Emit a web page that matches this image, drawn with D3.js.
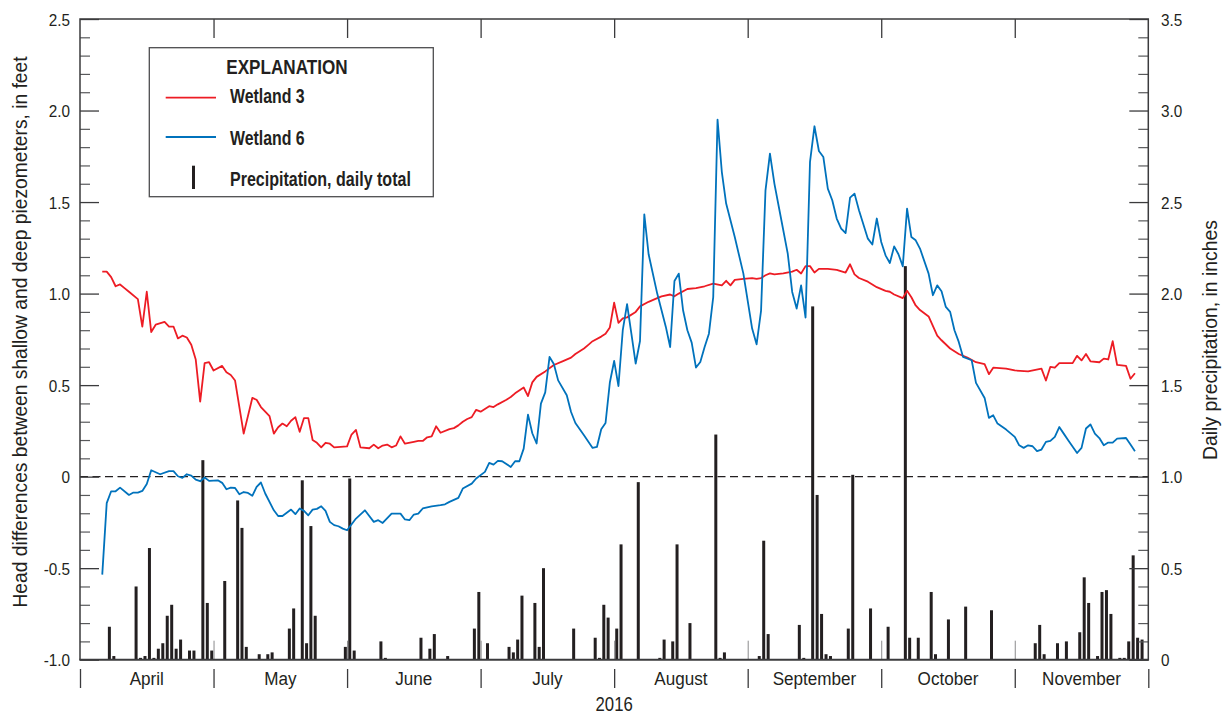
<!DOCTYPE html>
<html>
<head>
<meta charset="utf-8">
<script src="https://cdn.jsdelivr.net/npm/d3@7"></script>
<style>
  html, body { margin: 0; padding: 0; background: #ffffff; }
  svg { display: block; }
  text { font-family: "Liberation Sans", Arial, sans-serif; fill: #231f20; }
</style>
</head>
<body>
<svg id="chart" width="1222" height="714"></svg>
<script>
// ---- Data (day = days after 1 April 2016) ----
const months = ["April", "May", "June", "July", "August", "September", "October", "November"];
const yearLabel = "2016";
const headTicks = [-1.0, -0.5, 0, 0.5, 1.0, 1.5, 2.0, 2.5];
const precipTicks = [0, 0.5, 1.0, 1.5, 2.0, 2.5, 3.0, 3.5];

// Head difference, Wetland 3 (feet)
const wetland3 = [
  [5,1.12],[6,1.12],[7,1.09],[8,1.04],[9,1.05],[10,1.03],[11,1.01],[13,0.97],[14,0.82],[15,1.01],
  [16,0.79],[17,0.83],[19,0.845],[20,0.82],[21,0.82],[22,0.755],[23,0.77],[24,0.76],[25,0.72],[26,0.64],
  [27,0.41],[28,0.62],[29,0.625],[30,0.58],[32,0.605],[33,0.57],[34,0.555],[35,0.525],[37,0.235],[39,0.43],
  [40,0.42],[41,0.38],[42,0.355],[43,0.33],[44,0.235],[45,0.27],[46,0.29],[47,0.275],[48,0.305],[49,0.325],
  [50,0.245],[51,0.32],[52,0.32],[53,0.2],[54,0.185],[55,0.16],[56,0.185],[57,0.18],[58,0.16],[61,0.165],
  [62,0.23],[63,0.255],[64,0.16],[66,0.155],[67,0.175],[68,0.155],[69,0.17],[70,0.175],[71,0.16],[72,0.17],
  [73,0.22],[74,0.18],[76,0.19],[77,0.195],[78,0.195],[79,0.215],[80,0.22],[81,0.275],[82,0.24],[84,0.26],
  [85,0.265],[86,0.28],[87,0.3],[88,0.315],[89,0.325],[90,0.365],[91,0.355],[93,0.385],[94,0.38],[95,0.395],
  [97,0.42],[98,0.435],[99,0.455],[101,0.487],[102,0.44],[103,0.515],[104,0.545],[106,0.575],[108,0.61],[110,0.63],
  [112,0.65],[113,0.67],[115,0.7],[116,0.72],[117,0.74],[119,0.765],[120,0.78],[121,0.815],[122,0.95],[123,0.84],
  [124,0.865],[125,0.87],[127,0.9],[128,0.93],[130,0.955],[132,0.975],[133,0.985],[135,0.995],[136,0.985],[137,1.0],
  [139,1.025],[141,1.03],[143,1.04],[145,1.055],[147,1.045],[148,1.07],[149,1.045],[150,1.075],[152,1.08],[154,1.085],
  [155,1.08],[156,1.085],[157,1.1],[158,1.11],[159,1.105],[161,1.11],[163,1.12],[164,1.13],[165,1.11],[166,1.15],
  [167,1.15],[168,1.115],[169,1.135],[171,1.135],[173,1.13],[175,1.115],[176,1.16],[177,1.105],[178,1.085],[180,1.065],
  [182,1.035],[184,1.015],[185,1.01],[186,0.995],[188,0.975],[189,1.015],[190,0.98],[191,0.935],[192,0.91],[194,0.875],
  [196,0.77],[197,0.745],[199,0.7],[201,0.67],[203,0.65],[205,0.625],[207,0.615],[208,0.56],[209,0.595],[212,0.59],
  [214,0.58],[217,0.575],[220,0.59],[221,0.525],[222,0.6],[223,0.595],[224,0.62],[227,0.62],[228,0.66],[229,0.635],
  [230,0.67],[231,0.63],[233,0.625],[234,0.645],[235,0.64],[236,0.74],[237,0.61],[239,0.605],[240,0.535],[241,0.565]
];

// Head difference, Wetland 6 (feet)
const wetland6 = [
  [5,-0.535],[6,-0.145],[7,-0.08],[8,-0.08],[9,-0.06],[11,-0.1],[12,-0.087],[13,-0.087],[14,-0.078],[15,-0.04],
  [16,0.035],[18,0.013],[20,0.03],[21,0.03],[22,0.002],[23,-0.007],[24,0.013],[25,0.006],[26,-0.016],[27,-0.025],
  [28,-0.005],[29,-0.023],[31,-0.02],[32,-0.034],[33,-0.069],[34,-0.06],[35,-0.062],[36,-0.096],[37,-0.084],[38,-0.089],
  [39,-0.105],[40,-0.056],[41,-0.032],[42,-0.092],[44,-0.184],[45,-0.215],[46,-0.215],[48,-0.18],[49,-0.205],[50,-0.174],
  [51,-0.187],[52,-0.211],[53,-0.18],[54,-0.176],[55,-0.162],[56,-0.187],[57,-0.247],[58,-0.265],[59,-0.271],[60,-0.284],
  [61,-0.293],[63,-0.229],[65,-0.184],[67,-0.247],[68,-0.238],[69,-0.253],[71,-0.202],[73,-0.202],[74,-0.234],[75,-0.238],
  [76,-0.207],[77,-0.202],[78,-0.174],[80,-0.162],[82,-0.156],[83,-0.151],[84,-0.138],[86,-0.116],[87,-0.065],[89,-0.038],
  [90,-0.01],[92,0.026],[93,0.075],[94,0.066],[95,0.086],[96,0.084],[98,0.053],[99,0.084],[100,0.084],[101,0.153],
  [102,0.339],[103,0.237],[104,0.181],[105,0.399],[106,0.46],[107,0.654],[108,0.615],[109,0.526],[111,0.445],[112,0.353],
  [113,0.293],[115,0.226],[117,0.157],[118,0.162],[119,0.259],[120,0.293],[121,0.514],[122,0.632],[123,0.495],[124,0.8],
  [125,0.942],[126,0.781],[127,0.618],[128,0.741],[129,1.433],[130,1.215],[132,1.0],[134,0.818],[135,0.708],[136,1.069],
  [137,1.109],[138,0.909],[139,0.8],[140,0.732],[141,0.596],[142,0.626],[143,0.708],[144,0.781],[145,0.981],[146,1.95],
  [147,1.664],[148,1.492],[150,1.309],[152,1.109],[154,0.809],[155,0.723],[156,0.905],[157,1.564],[158,1.765],[159,1.601],
  [160,1.473],[162,1.218],[163,1.009],[164,0.918],[165,1.045],[166,0.869],[167,1.719],[168,1.914],[169,1.779],[170,1.746],
  [171,1.573],[172,1.51],[173,1.41],[174,1.355],[175,1.331],[176,1.524],[177,1.546],[178,1.455],[180,1.3],[181,1.268],
  [182,1.41],[183,1.282],[184,1.209],[185,1.167],[186,1.258],[187,1.215],[188,1.149],[189,1.464],[190,1.309],[191,1.291],
  [192,1.246],[194,1.109],[195,0.991],[196,1.045],[197,1.013],[198,0.927],[199,0.9],[200,0.8],[201,0.736],[202,0.654],
  [204,0.636],[205,0.512],[207,0.43],[208,0.321],[209,0.335],[210,0.29],[212,0.257],[214,0.217],[215,0.171],[216,0.157],
  [217,0.171],[218,0.166],[219,0.139],[220,0.148],[221,0.19],[222,0.195],[223,0.217],[224,0.271],[225,0.235],[226,0.199],
  [228,0.129],[229,0.157],[230,0.263],[231,0.285],[232,0.235],[233,0.211],[234,0.171],[235,0.186],[236,0.186],[237,0.208],
  [239,0.211],[240,0.175],[241,0.139]
];

// Daily precipitation totals (inches), days with rain only
const precipitation = [
  [6,0.18],[7,0.02],[12,0.40],[13,0.01],[14,0.02],[15,0.61],[16,0.01],[17,0.06],[18,0.09],[19,0.24],
  [20,0.30],[21,0.06],[22,0.11],[24,0.05],[25,0.05],[27,1.09],[28,0.31],[29,0.05],
  [32,0.43],[35,0.87],[36,0.72],[37,0.07],[40,0.03],[42,0.03],[43,0.04],[47,0.17],[48,0.28],
  [50,0.98],[51,0.09],[52,0.73],[53,0.24],[60,0.07],
  [61,0.99],[62,0.05],[68,0.10],[69,0.01],[77,0.12],[79,0.06],[80,0.14],[83,0.02],[89,0.17],[90,0.37],
  [92,0.09],[97,0.07],[98,0.04],[99,0.11],[100,0.35],[103,0.31],[104,0.07],[105,0.50],[112,0.17],
  [117,0.12],[118,0.01],[119,0.30],[120,0.23],
  [122,0.17],[123,0.63],[127,0.97],[132,0.01],[133,0.11],[135,0.10],[136,0.63],[139,0.20],
  [145,1.23],[146,0.01],[147,0.04],
  [155,0.02],[156,0.65],[157,0.14],[164,0.19],[165,0.01],[167,1.93],[168,0.90],[169,0.25],[170,0.03],
  [171,0.02],[175,0.17],[176,1.01],[180,0.28],
  [184,0.18],[188,2.15],[189,0.12],[191,0.12],[194,0.37],[195,0.03],[198,0.22],[202,0.29],[208,0.27],
  [218,0.09],[219,0.19],[220,0.03],[223,0.09],[225,0.10],[228,0.15],[229,0.45],[230,0.31],[232,0.02],
  [233,0.37],[234,0.38],[235,0.25],[237,0.01],[238,0.01],[239,0.10],[240,0.57],[241,0.12],[242,0.11]
];

// ---- Layout ----
const plot = { left: 80, right: 1148.3, top: 19, bottom: 659.7 };
const INK = "#231f20";
const FRAME = "#3b3b3d";
const RED = "#ed1c24";
const BLUE = "#0072bc";
const DAY_MS = 864e5;
const season0 = Date.UTC(2016, 3, 1);
const dayDate = d => new Date(season0 + d * DAY_MS);

const svg = d3.select("#chart");

// months are drawn with equal widths
const monthStarts = d3.range(9).map(i => new Date(Date.UTC(2016, 3 + i, 1)));
const x = d3.scaleUtc()
  .domain(monthStarts)
  .range(d3.range(9).map(i => plot.left + i * (plot.right - plot.left) / 8));
const yHead = d3.scaleLinear().domain([-1, 2.5]).range([plot.bottom, plot.top]);
const yPrecip = d3.scaleLinear().domain([0, 3.5]).range([plot.bottom, plot.top]);

// text helper with horizontal condensing
function label(g, px, py, str, o) {
  const t = g.append("text")
    .attr("transform", `translate(${px},${py})` + (o.rotate ? ` rotate(${o.rotate})` : "") + ` scale(${o.sx || 1},1)`)
    .attr("text-anchor", o.anchor || "start")
    .style("font-size", (o.size || 16) + "px")
    .style("font-weight", o.weight || "normal")
    .text(str);
  return t;
}

// ---- Precipitation bars ----
const barW = 3;
svg.append("g").selectAll("rect").data(precipitation).join("rect")
  .attr("x", d => x(new Date(season0 + (d[0] + 0.6) * DAY_MS)) - barW / 2)
  .attr("width", barW)
  .attr("y", d => yPrecip(d[1]))
  .attr("height", d => plot.bottom - yPrecip(d[1]))
  .attr("fill", INK);

// ---- Zero line ----
svg.append("line")
  .attr("x1", plot.left).attr("x2", plot.right)
  .attr("y1", yHead(0)).attr("y2", yHead(0))
  .attr("stroke", INK).attr("stroke-width", 1.3)
  .attr("stroke-dasharray", "8,4.5");

// ---- Head difference lines ----
const line = d3.line().x(d => x(dayDate(d[0]))).y(d => yHead(d[1]));
svg.append("path").datum(wetland3).attr("d", line)
  .attr("fill", "none").attr("stroke", RED).attr("stroke-width", 1.8).attr("stroke-linejoin", "round");
svg.append("path").datum(wetland6).attr("d", line)
  .attr("fill", "none").attr("stroke", BLUE).attr("stroke-width", 1.8).attr("stroke-linejoin", "round");

// ---- Axes ----
function styleAxis(g, color, width) {
  g.select(".domain").remove();
  g.selectAll(".tick line").attr("stroke", color).attr("stroke-width", width);
}
const minorVals = d3.range(-10, 26).map(i => i / 10).filter(v => Math.abs(v * 2 - Math.round(v * 2)) > 1e-6);
const minorPrecip = d3.range(0, 36).map(i => i / 10).filter(v => Math.abs(v * 2 - Math.round(v * 2)) > 1e-6);
const fmt = v => (v === 0 ? "0" : v.toFixed(1));
const tickSx = 0.9;

// left
svg.append("g").attr("transform", `translate(${plot.left},0)`)
  .call(d3.axisLeft(yHead).tickValues(minorVals).tickSize(-10).tickFormat(""))
  .call(g => styleAxis(g, "#58595b", 1.2));
const gl = svg.append("g").attr("transform", `translate(${plot.left},0)`)
  .call(d3.axisLeft(yHead).tickValues(headTicks).tickSize(-19).tickPadding(10).tickFormat(fmt))
  .call(g => styleAxis(g, FRAME, 1.3));
gl.selectAll(".tick text")
  .attr("x", null).attr("dy", null)
  .attr("transform", `translate(-10,6) scale(${tickSx},1)`)
  .style("font-size", "17px").style("font-family", "'Liberation Sans', Arial, sans-serif")
  .attr("fill", INK);

// right
svg.append("g").attr("transform", `translate(${plot.right},0)`)
  .call(d3.axisRight(yPrecip).tickValues(minorPrecip).tickSize(-10).tickFormat(""))
  .call(g => styleAxis(g, "#58595b", 1.2));
const gr = svg.append("g").attr("transform", `translate(${plot.right},0)`)
  .call(d3.axisRight(yPrecip).tickValues(precipTicks).tickSize(-19).tickPadding(12.7).tickFormat(fmt))
  .call(g => styleAxis(g, FRAME, 1.3));
gr.selectAll(".tick text")
  .attr("x", null).attr("dy", null)
  .attr("transform", `translate(12.7,6) scale(${tickSx},1)`)
  .style("font-size", "17px").style("font-family", "'Liberation Sans', Arial, sans-serif")
  .attr("fill", INK);

// top month ticks
const innerMonths = monthStarts.slice(1, 8);
svg.append("g").attr("transform", `translate(0,${plot.top})`)
  .call(d3.axisTop(x).tickValues(innerMonths).tickSize(-19).tickFormat(""))
  .call(g => styleAxis(g, FRAME, 1.3));
// bottom inner month ticks
svg.append("g").attr("transform", `translate(0,${plot.bottom})`)
  .call(d3.axisBottom(x).tickValues(innerMonths).tickSize(-19).tickFormat(""))
  .call(g => styleAxis(g, "#8a8a8c", 1));
// month separators below the axis
svg.append("g").attr("transform", `translate(0,669)`)
  .call(d3.axisBottom(x).tickValues(monthStarts).tickSize(19).tickFormat(""))
  .call(g => styleAxis(g, FRAME, 1.3));

// frame
svg.append("path")
  .attr("d", `M${plot.left},${plot.bottom}V${plot.top}H${plot.right}V${plot.bottom}`)
  .attr("fill", "none").attr("stroke", FRAME).attr("stroke-width", 1.5);
svg.append("line")
  .attr("x1", plot.left - 0.75).attr("x2", plot.right + 0.75)
  .attr("y1", plot.bottom).attr("y2", plot.bottom)
  .attr("stroke", FRAME).attr("stroke-width", 2);

// month labels
const gm = svg.append("g");
months.forEach((m, i) => {
  const cx = (x(monthStarts[i]) + x(monthStarts[i + 1])) / 2;
  label(gm, cx, 684.5, m, { size: 19, anchor: "middle", sx: 0.9 });
});
label(gm, (plot.left + plot.right) / 2, 711, yearLabel, { size: 19.5, anchor: "middle", sx: 0.86 });

// axis titles
label(svg, 27.3, 332, "Head differences between shallow and deep piezometers, in feet",
  { size: 20, anchor: "middle", rotate: -90, sx: 0.962 });
label(svg, 1216.5, 340, "Daily precipitation, in inches",
  { size: 20, anchor: "middle", rotate: -90, sx: 0.968 });

// ---- Legend ----
const lg = svg.append("g");
lg.append("rect").attr("x", 149.3).attr("y", 47.7).attr("width", 284).attr("height", 149)
  .attr("fill", "#ffffff").attr("stroke", "#4d4d4f").attr("stroke-width", 1.3);
label(lg, 226.3, 74, "EXPLANATION", { size: 20.5, weight: "bold", sx: 0.835 });
lg.append("line").attr("x1", 165.7).attr("x2", 216).attr("y1", 97.7).attr("y2", 97.7)
  .attr("stroke", RED).attr("stroke-width", 1.8);
label(lg, 230, 103.3, "Wetland 3", { size: 19.5, weight: "bold", sx: 0.815 });
lg.append("line").attr("x1", 165.7).attr("x2", 216).attr("y1", 137).attr("y2", 137)
  .attr("stroke", BLUE).attr("stroke-width", 1.8);
label(lg, 230, 145, "Wetland 6", { size: 19.5, weight: "bold", sx: 0.815 });
lg.append("rect").attr("x", 192).attr("y", 165.7).attr("width", 3).attr("height", 23.3).attr("fill", INK);
label(lg, 230, 185.7, "Precipitation, daily total", { size: 19.5, weight: "bold", sx: 0.823 });
</script>
</body>
</html>
